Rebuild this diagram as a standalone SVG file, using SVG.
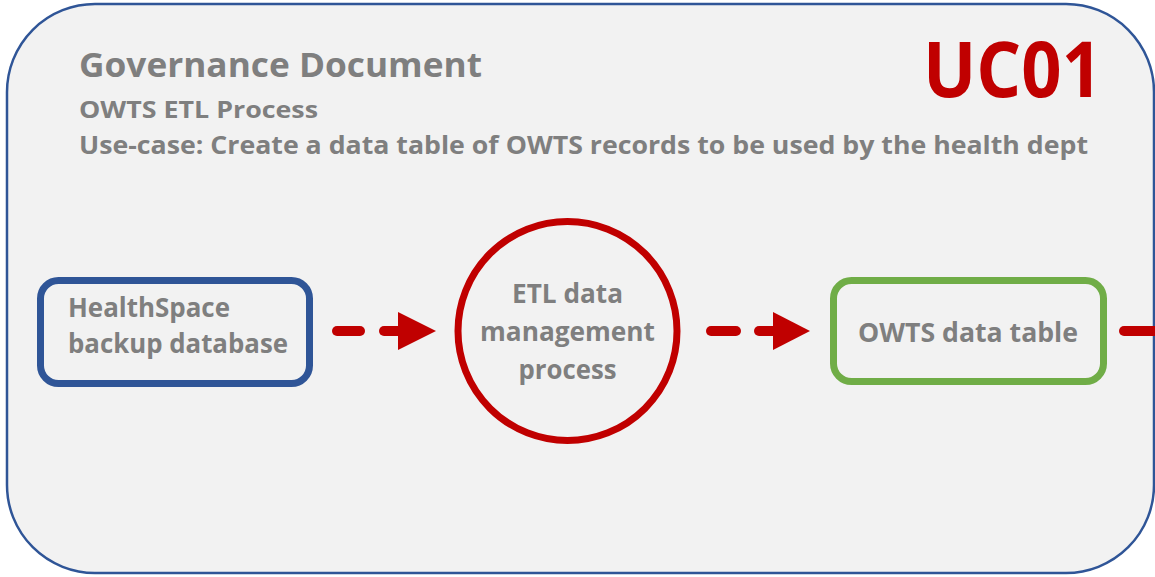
<svg xmlns="http://www.w3.org/2000/svg" width="1155" height="577" viewBox="0 0 1155 577">
<style>
.t{font-family:"Open Sans","Noto Sans","DejaVu Sans",sans-serif;font-weight:700;fill:#7F7F7F}
.box{fill:none;stroke-width:7}
.dash{stroke:#C00000;stroke-width:10;stroke-linecap:round;fill:none}
.head{fill:#C00000}
</style>
<rect width="1155" height="577" fill="#FFFFFF"/>
<g id="frame">
<rect x="7" y="4" width="1147" height="569" rx="88" ry="88" fill="#F2F2F2" stroke="#2F5597" stroke-width="2.5"/>
<text class="t" x="79" y="77" font-size="34" textLength="403" lengthAdjust="spacingAndGlyphs">Governance Document</text>
<text class="t" x="79" y="118" font-size="23" textLength="239" lengthAdjust="spacingAndGlyphs">OWTS ETL Process</text>
<text class="t" x="79" y="154" font-size="25" textLength="1009" lengthAdjust="spacingAndGlyphs">Use-case: Create a data table of OWTS records to be used by the health dept</text>
<text x="923" y="97" font-family="'Open Sans','Noto Sans','DejaVu Sans',sans-serif" font-weight="700" font-size="77" fill="#C00000" textLength="179" lengthAdjust="spacingAndGlyphs">UC01</text>
</g>
<g id="connectors">
<line class="dash" x1="337" y1="331" x2="360" y2="331"/>
<line class="dash" x1="384" y1="331" x2="400" y2="331"/>
<polygon class="head" points="398,312 436,331 398,350"/>
<line class="dash" x1="711" y1="331" x2="736" y2="331"/>
<line class="dash" x1="759" y1="331" x2="775" y2="331"/>
<polygon class="head" points="773,312 810,331 773,350"/>
<line class="dash" x1="1124" y1="331" x2="1165" y2="331"/>
</g>
<g id="node-healthspace">
<rect class="box" x="40.5" y="280.5" width="269" height="103" rx="18" ry="18" stroke="#2F5597"/>
<text class="t" x="68" y="317" font-size="26" textLength="162" lengthAdjust="spacingAndGlyphs">HealthSpace</text>
<text class="t" x="68" y="353" font-size="26" textLength="220" lengthAdjust="spacingAndGlyphs">backup database</text>
</g>
<g id="node-etl">
<circle cx="567.5" cy="331" r="109.5" fill="none" stroke="#C00000" stroke-width="7"/>
<text class="t" x="567.5" y="303" font-size="26" text-anchor="middle" textLength="111" lengthAdjust="spacingAndGlyphs">ETL data</text>
<text class="t" x="567.5" y="341" font-size="26" text-anchor="middle" textLength="175" lengthAdjust="spacingAndGlyphs">management</text>
<text class="t" x="567.5" y="379" font-size="26" text-anchor="middle" textLength="98" lengthAdjust="spacingAndGlyphs">process</text>
</g>
<g id="node-owts">
<rect class="box" x="833.5" y="280.5" width="270" height="101" rx="18" ry="18" stroke="#70AD47"/>
<text class="t" x="968" y="342" font-size="26" text-anchor="middle" textLength="220" lengthAdjust="spacingAndGlyphs">OWTS data table</text>
</g>
</svg>
